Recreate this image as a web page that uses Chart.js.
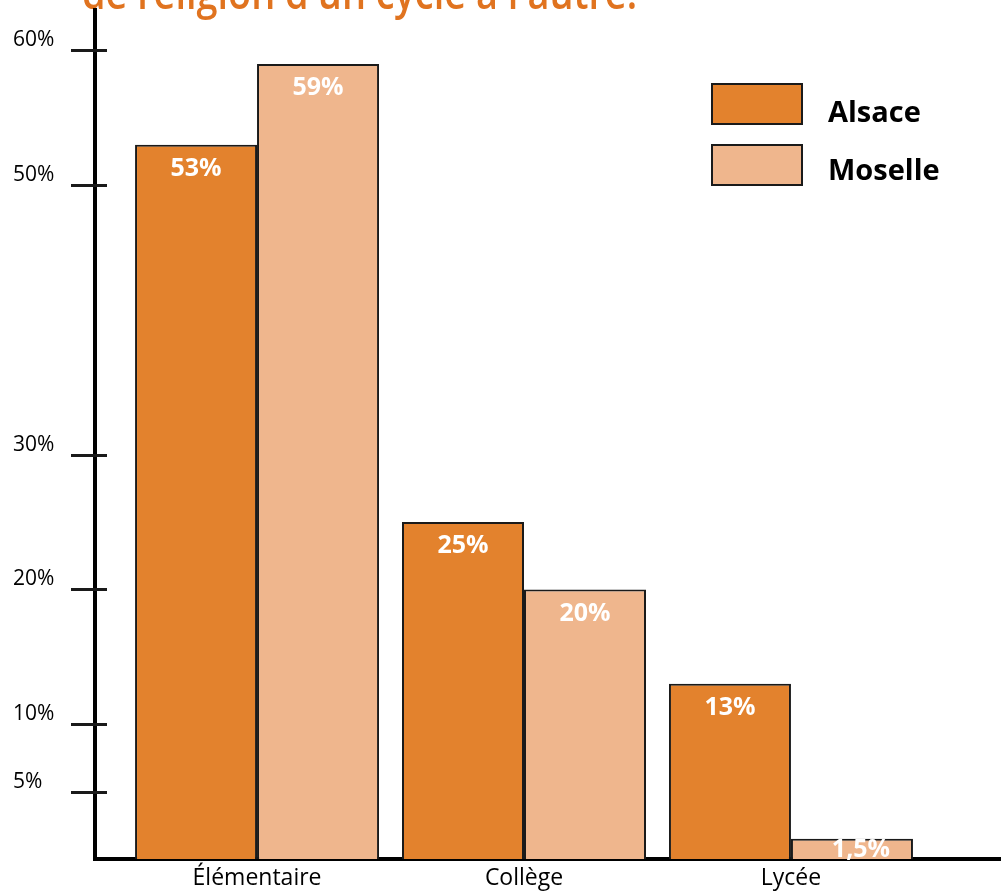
<!DOCTYPE html>
<html>
<head>
<meta charset="utf-8">
<script src="https://cdn.jsdelivr.net/npm/chart.js@4"></script>
<style>
  html, body { margin: 0; padding: 0; background: #fff; }
  #wrap { width: 1003px; height: 893px; position: relative; }
</style>
</head>
<body>
<div id="wrap"><canvas id="chart"></canvas></div>
<script>
// Data
var categories = ['Élémentaire', 'Collège', 'Lycée'];
var alsace = [53, 25, 13];
var moselle = [59, 20, 1.5];
var yTicks = [5, 10, 20, 30, 50, 60];
var seriesNames = ['Alsace', 'Moselle'];
var titleText = "de religion d'un cycle à l'autre.";

var orange = '#e3822d';
var peach = '#efb68d';
var ink = '#1a1a1a';

function pct(v) {
    return String(v).replace('.', ',') + '%';
}

// title, only its lower part is visible at the top edge
var titlePlugin = {
    id: 'cutTitle',
    beforeDraw: function (chart) {
        var ctx = chart.ctx;
        ctx.save();
        ctx.fillStyle = '#e0731f';
        ctx.font = '600 46px "Open Sans"';
        ctx.textAlign = 'left';
        ctx.textBaseline = 'alphabetic';
        var w = ctx.measureText(titleText).width;
        ctx.translate(82, 9);
        ctx.scale(555 / w, 1);
        ctx.fillText(titleText, 0, 0);
        ctx.restore();
    }
};

// y axis line up to the top, and tick marks crossing it
var crossTicks = {
    id: 'crossTicks',
    afterDraw: function (chart) {
        var ctx = chart.ctx;
        var y = chart.scales.y;
        var area = chart.chartArea;
        var x0 = area.left;
        ctx.save();
        ctx.strokeStyle = '#000';
        ctx.lineWidth = 4;
        ctx.beginPath();
        ctx.moveTo(x0, area.top);
        ctx.lineTo(x0, area.bottom);
        ctx.stroke();
        ctx.strokeStyle = ink;
        ctx.lineWidth = 3;
        y.ticks.forEach(function (t) {
            var py = Math.round(y.getPixelForValue(t.value)) + 0.5;
            ctx.beginPath();
            ctx.moveTo(x0 - 24, py);
            ctx.lineTo(x0 + 12, py);
            ctx.stroke();
        });
        ctx.restore();
    }
};

// value labels inside the bars
var barLabels = {
    id: 'barLabels',
    afterDatasetsDraw: function (chart) {
        var ctx = chart.ctx;
        ctx.save();
        ctx.fillStyle = '#ffffff';
        ctx.font = 'bold 25px "Open Sans"';
        ctx.textAlign = 'center';
        ctx.textBaseline = 'middle';
        chart.data.datasets.forEach(function (ds, i) {
            chart.getDatasetMeta(i).data.forEach(function (bar, j) {
                var v = ds.data[j].y;
                var offs = v < 5 ? 11 : 24;
                var dx = v < 5 ? 9 : 0;
                ctx.fillText(pct(v), bar.x + dx, bar.y + offs);
            });
        });
        ctx.restore();
    }
};

// legend boxes at the top right
var boxLegend = {
    id: 'boxLegend',
    afterDraw: function (chart) {
        var ctx = chart.ctx;
        var boxTop = [84, 145];
        var textMid = [114, 172];
        ctx.save();
        chart.data.datasets.forEach(function (ds, i) {
            ctx.fillStyle = ds.backgroundColor;
            ctx.fillRect(712, boxTop[i], 90, 40);
            ctx.strokeStyle = ink;
            ctx.lineWidth = 2;
            ctx.strokeRect(712, boxTop[i], 90, 40);
            ctx.fillStyle = '#000';
            ctx.font = 'bold 29px "Open Sans"';
            ctx.textAlign = 'left';
            ctx.textBaseline = 'middle';
            ctx.fillText(ds.label, 828, textMid[i]);
        });
        ctx.restore();
    }
};

function toPoints(arr) {
    return arr.map(function (v, i) { return { x: i, y: v }; });
}

var ctx = document.getElementById('chart').getContext('2d');
var chart = new Chart(ctx, {
    type: 'bar',
    data: {
        datasets: [{
            label: seriesNames[0],
            data: toPoints(alsace),
            backgroundColor: orange,
            borderColor: ink,
            borderWidth: 2,
            categoryPercentage: 0.914,
            barPercentage: 1
        }, {
            label: seriesNames[1],
            data: toPoints(moselle),
            backgroundColor: peach,
            borderColor: ink,
            borderWidth: 2,
            categoryPercentage: 0.914,
            barPercentage: 1
        }]
    },
    options: {
        responsive: true,
        maintainAspectRatio: false,
        animation: false,
        layout: { padding: { left: 13, right: 3, top: 10, bottom: 0 } },
        plugins: {
            legend: { display: false },
            tooltip: { enabled: false }
        },
        scales: {
            x: {
                type: 'linear',
                min: -0.607,
                max: 2.783,
                offset: false,
                z: 1,
                grid: { display: false, drawTicks: false },
                border: { display: true, color: '#000', width: 4 },
                afterBuildTicks: function (scale) {
                    scale.ticks = categories.map(function (c, i) { return { value: i }; });
                },
                afterFit: function (scale) {
                    scale.height = 34;
                    scale.paddingLeft = 0;
                    scale.paddingRight = 0;
                },
                ticks: {
                    color: '#000',
                    font: { family: 'Open Sans', size: 23 },
                    padding: 6,
                    maxRotation: 0,
                    autoSkip: false,
                    callback: function (v) { return categories[v]; }
                }
            },
            y: {
                min: 0,
                max: 63,
                z: 1,
                grid: { display: false, drawTicks: false },
                border: { display: true, color: '#000', width: 4 },
                afterBuildTicks: function (scale) {
                    scale.ticks = yTicks.map(function (v) { return { value: v }; });
                },
                afterFit: function (scale) {
                    scale.width = 82;
                    scale.paddingTop = 0;
                    scale.paddingBottom = 0;
                },
                ticks: {
                    color: '#000',
                    font: { family: 'Open Sans', size: 21 },
                    crossAlign: 'far',
                    labelOffset: -10,
                    callback: function (v) { return v + '%'; }
                }
            }
        }
    },
    plugins: [titlePlugin, barLabels, crossTicks, boxLegend]
});
</script>
</body>
</html>
